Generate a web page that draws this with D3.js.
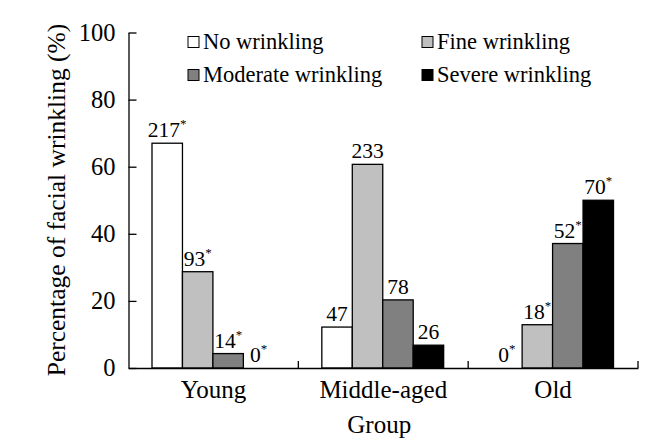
<!DOCTYPE html>
<html><head><meta charset="utf-8">
<script src="https://cdn.jsdelivr.net/npm/d3@7"></script>
<style>body{margin:0;background:#fff}svg{display:block}text{font-family:"Liberation Serif","Times New Roman",serif;fill:#000}</style>
</head><body><svg id="c" width="654" height="446"></svg>
<script>
const groups = ["Young", "Middle-aged", "Old"];
const series = ["No wrinkling", "Fine wrinkling", "Moderate wrinkling", "Severe wrinkling"];
const colors = ["#ffffff", "#c0c0c0", "#808080", "#000000"];
const percents = [
  [67.0, 28.7, 4.3, 0],
  [12.2, 60.7, 20.3, 6.8],
  [0, 12.9, 37.1, 50.0]
];
const counts = [
  [217, 93, 14, 0],
  [47, 233, 78, 26],
  [0, 18, 52, 70]
];
const starred = [
  [true, true, true, true],
  [false, false, false, false],
  [true, true, true, true]
];
const yTicks = [0, 20, 40, 60, 80, 100];

const FONT = "Liberation Serif";
const svg = d3.select("#c");
const m = {l: 128.5, r: 638, t: 32.5, b: 368};
const x = d3.scaleBand().domain(groups).range([m.l, m.r]).padding(0);
const xi = d3.scaleBand().domain(series).range([23.5, x.bandwidth() - 24.5]).padding(0);
const y = d3.scaleLinear().domain([0, 100]).range([m.b, m.t]);

// bars
groups.forEach((g, gi) => {
  const gg = svg.append("g").attr("transform", `translate(${x(g)},0)`);
  series.forEach((s, si) => {
    const v = percents[gi][si];
    if (v > 0) {
      gg.append("rect").attr("x", xi(s)).attr("width", xi.bandwidth())
        .attr("y", y(v)).attr("height", y(0) - y(v))
        .attr("fill", colors[si]).attr("stroke", "#000").attr("stroke-width", 1.3);
    }
    const t = gg.append("text").attr("x", xi(s) + xi.bandwidth() / 2)
      .attr("y", y(v) - 6).attr("text-anchor", "middle").attr("font-size", 21.5)
      .attr("font-family", FONT);
    t.append("tspan").text(counts[gi][si]);
    if (starred[gi][si]) t.append("tspan").attr("dy", -9).attr("font-size", 13).text("*");
  });
});

// y axis
const ya = svg.append("g").attr("transform", `translate(${m.l},0)`)
  .call(d3.axisLeft(y).tickValues(yTicks).tickSize(-8).tickPadding(13).tickSizeOuter(0));
ya.attr("font-family", FONT);
ya.select(".domain").attr("stroke", "#000").attr("stroke-width", 1.3);
ya.selectAll(".tick line").attr("stroke", "#000").attr("stroke-width", 1.3);
ya.selectAll(".tick text").attr("font-size", 24.5).attr("font-family", FONT).attr("fill", "#000");

// x axis
const xa = svg.append("g").attr("transform", `translate(0,${m.b})`)
  .call(d3.axisBottom(x).tickSize(0).tickPadding(12).tickSizeOuter(0));
xa.attr("font-family", FONT);
xa.select(".domain").attr("stroke", "#000").attr("stroke-width", 1.3);
xa.selectAll(".tick text").attr("font-size", 25).attr("font-family", FONT).attr("fill", "#000").attr("dy", "0.71em");
groups.forEach(g => {
  svg.append("line").attr("x1", x(g) + x.bandwidth()).attr("x2", x(g) + x.bandwidth())
    .attr("y1", m.b).attr("y2", m.b - 7).attr("stroke", "#000").attr("stroke-width", 1.3);
});

// axis titles
svg.append("text").attr("x", (m.l + m.r) / 2 - 4).attr("y", 433).attr("text-anchor", "middle")
  .attr("font-size", 25).attr("font-family", FONT).text("Group");
svg.append("text").attr("transform", `translate(65,200) rotate(-90)`).attr("text-anchor", "middle")
  .attr("font-size", 25.5).attr("font-family", FONT).text("Percentage of facial wrinkling (%)");

// legend
const legPos = [[188, 42], [422, 42], [188, 75], [422, 75]];
series.forEach((s, si) => {
  const [lx, ly] = legPos[si];
  svg.append("rect").attr("x", lx).attr("y", ly - 5.5).attr("width", 11).attr("height", 11)
    .attr("fill", colors[si]).attr("stroke", "#000").attr("stroke-width", 1);
  svg.append("text").attr("x", lx + 15).attr("y", ly + 7).attr("font-size", 22.5)
    .attr("font-family", FONT).text(s);
});
</script></body></html>
